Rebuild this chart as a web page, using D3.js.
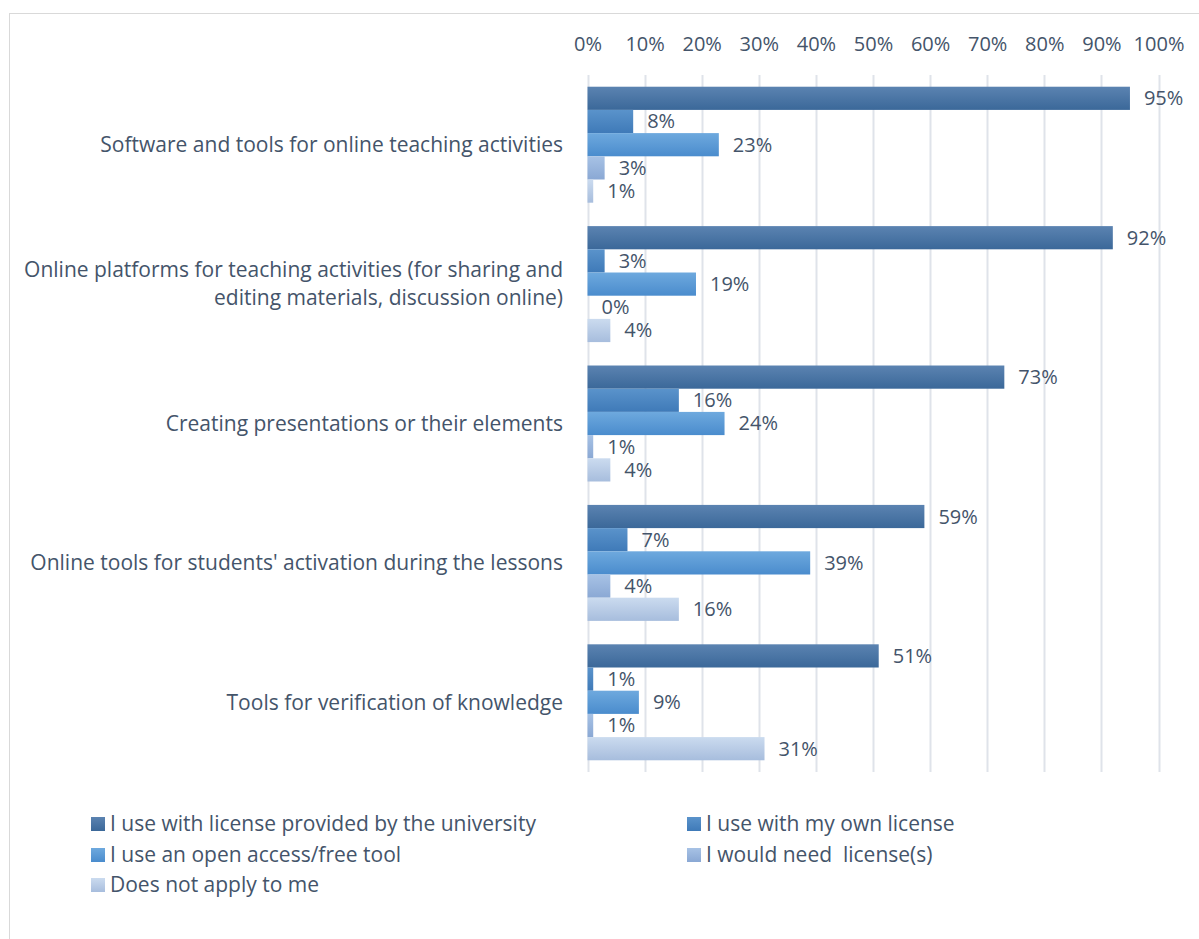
<!DOCTYPE html>
<html>
<head>
<meta charset="utf-8">
<script src="https://cdn.jsdelivr.net/npm/d3@7"></script>
<style>
  html, body { margin: 0; padding: 0; background: #fff; }
  svg { display: block; }
  text { font-family: "Open Sans", Lato, sans-serif; fill: #44546a; white-space: pre; }
</style>
</head>
<body>
<svg id="chart" width="1199" height="939"></svg>
<script>
// Categories (top to bottom); second entry wraps onto two lines
const categories = [
  ["Software and tools for online teaching activities"],
  ["Online platforms for teaching activities (for sharing and", "editing materials, discussion online)"],
  ["Creating presentations or their elements"],
  ["Online tools for students' activation during the lessons"],
  ["Tools for verification of knowledge"]
];
const seriesNames = [
  "I use with license provided by the university",
  "I use with my own license",
  "I use an open access/free tool",
  "I would need  license(s)",
  "Does not apply to me"
];
// Percent values per series, in category order
const universityLicense = [95, 92, 73, 59, 51];
const ownLicense        = [8, 3, 16, 7, 1];
const openAccess        = [23, 19, 24, 39, 9];
const needLicense       = [3, 0, 1, 4, 1];
const notApply          = [1, 4, 4, 16, 31];
const seriesValues = [universityLicense, ownLicense, openAccess, needLicense, notApply];
const tickValues = [0, 10, 20, 30, 40, 50, 60, 70, 80, 90, 100];

// Gradient stops (top, bottom) for each series
const colors = [
  ["#5b83b1", "#3b6899"],
  ["#5a93cb", "#3f7ab8"],
  ["#6ea9de", "#4a8ccd"],
  ["#a7c2e5", "#8aa8d4"],
  ["#cbdbef", "#a7bddd"]
];

const FS_TEXT = 21;   // category and legend labels
const FS_NUM = 20;    // axis ticks and value labels
const svg = d3.select("#chart");
const W = 1199, H = 939;

// outer chart frame
svg.append("rect")
  .attr("x", 9.5).attr("y", 13.5)
  .attr("width", W + 20).attr("height", H + 20)
  .attr("fill", "none").attr("stroke", "#d9d9d9").attr("stroke-width", 1);

const defs = svg.append("defs");
colors.forEach((c, i) => {
  const g = defs.append("linearGradient")
    .attr("id", "grad" + i)
    .attr("x1", 0).attr("y1", 0).attr("x2", 0).attr("y2", 1);
  g.append("stop").attr("offset", "0%").attr("stop-color", c[0]);
  g.append("stop").attr("offset", "100%").attr("stop-color", c[1]);
});

const plot = { left: 587.5, right: 1158.5, top: 75, bottom: 772 };

const x = d3.scaleLinear().domain([0, 100]).range([plot.left, plot.right]);
const y = d3.scaleBand()
  .domain(d3.range(categories.length))
  .range([plot.top, plot.bottom])
  .paddingInner(0.168).paddingOuter(0.084);
const yInner = d3.scaleBand()
  .domain(d3.range(seriesNames.length))
  .range([0, y.bandwidth()]);

// vertical gridlines
svg.append("g")
  .selectAll("line")
  .data(tickValues)
  .join("line")
  .attr("x1", d => Math.round(x(d)) + 0.5)
  .attr("x2", d => Math.round(x(d)) + 0.5)
  .attr("y1", plot.top).attr("y2", plot.bottom)
  .attr("stroke", "#dfe3ea").attr("stroke-width", 2);

// top axis labels
const axis = d3.axisTop(x).tickValues(tickValues).tickFormat(d => d + "%").tickSize(0).tickPadding(0);
const axisG = svg.append("g").attr("transform", "translate(0,44)").call(axis);
axisG.select(".domain").remove();
axisG.selectAll("text")
  .attr("font-size", FS_NUM)
  .attr("dy", "0.35em")
  .style("font-family", "'Open Sans', Lato, sans-serif")
  .attr("fill", "#44546a");

// bars and value labels
const groups = svg.append("g")
  .selectAll("g")
  .data(categories)
  .join("g")
  .attr("transform", (d, i) => `translate(0,${y(i)})`);

groups.each(function (cat, ci) {
  const g = d3.select(this);
  seriesValues.forEach((vals, si) => {
    const v = vals[ci];
    g.append("rect")
      .attr("x", x(0))
      .attr("y", yInner(si))
      .attr("width", x(v) - x(0))
      .attr("height", yInner.bandwidth())
      .attr("fill", `url(#grad${si})`);
    g.append("text")
      .attr("x", x(v) + 14)
      .attr("y", yInner(si) + yInner.bandwidth() / 2)
      .attr("dy", "0.35em")
      .attr("font-size", FS_NUM)
      .text(v + "%");
  });
  // category label
  const lineH = 28;
  const cy = y.bandwidth() / 2 - (cat.length - 1) * lineH / 2;
  const t = g.append("text")
    .attr("text-anchor", "end")
    .attr("font-size", FS_TEXT)
    .attr("x", 563);
  cat.forEach((line, li) => {
    t.append("tspan")
      .attr("x", 563)
      .attr("y", cy + li * lineH)
      .attr("dy", "0.35em")
      .text(line);
  });
});

// legend: two columns, filled row by row
const legendPos = [
  [91, 824], [687, 824],
  [91, 855], [687, 855],
  [91, 885]
];
const legend = svg.append("g")
  .selectAll("g")
  .data(seriesNames)
  .join("g")
  .attr("transform", (d, i) => `translate(${legendPos[i][0]},${legendPos[i][1]})`);
legend.append("rect")
  .attr("x", 0).attr("y", -7)
  .attr("width", 14).attr("height", 14)
  .attr("fill", (d, i) => `url(#grad${i})`);
legend.append("text")
  .attr("x", 19).attr("y", 0).attr("dy", "0.35em")
  .attr("font-size", FS_TEXT)
  .text(d => d);
</script>
</body>
</html>
